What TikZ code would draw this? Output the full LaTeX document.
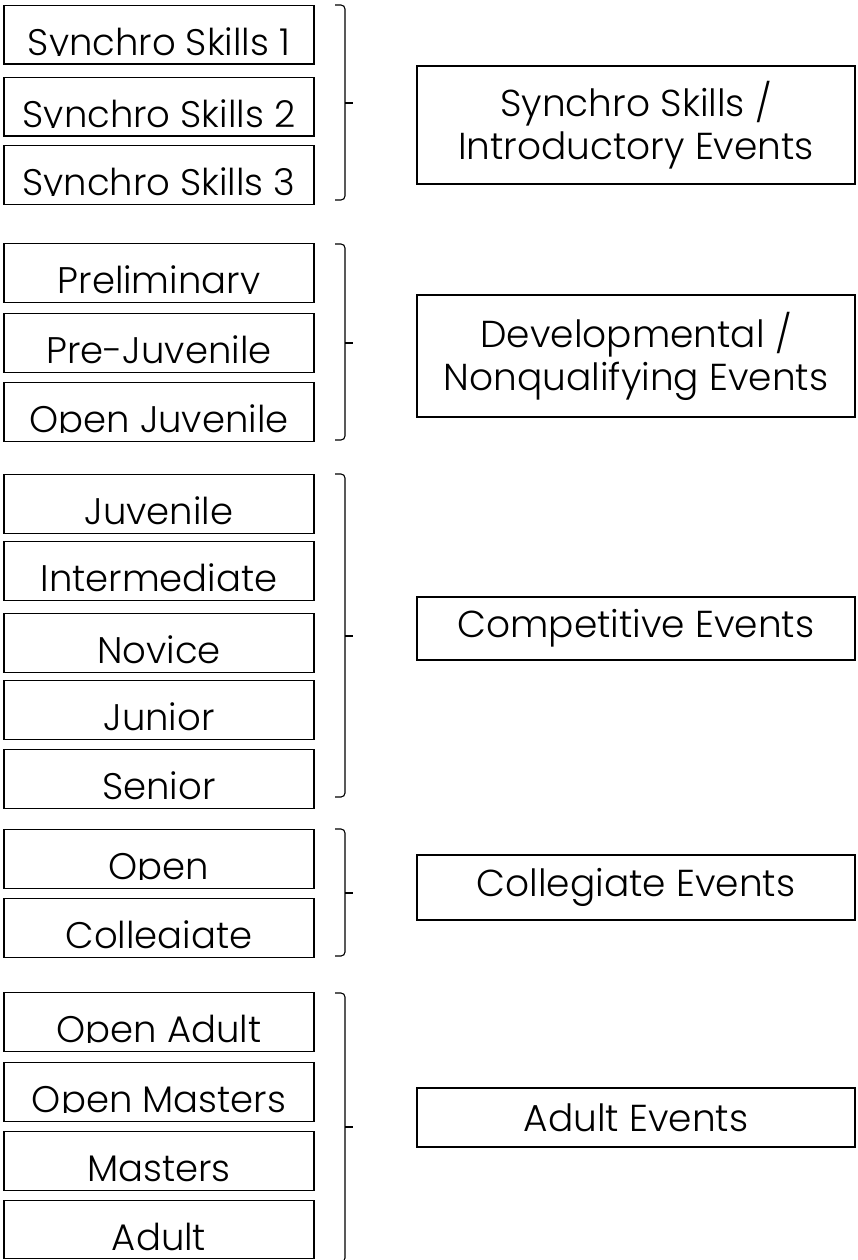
\documentclass[tikz,border=0pt]{standalone}
\usepackage{fontspec}
\IfFontExistsTF{Poppins Light}{\setmainfont{Poppins Light}}{\setmainfont{Poppins}}

\begin{document}
\begin{tikzpicture}[x=1pt,y=-1pt,line width=1.1pt]
\tikzset{
% Level boxes on the left (text cut at the baseline) and event boxes on the right
level text/.style={anchor=base,inner sep=0pt,font=\fontsize{37}{44}\selectfont},
level box/.style={draw,rectangle,minimum width=310pt,minimum height=58.5pt,inner sep=0pt,anchor=north,
  path picture={\clip ([yshift=8.5pt]path picture bounding box.south west) rectangle (path picture bounding box.north east);
  \node[level text] at ([yshift=8.5pt]path picture bounding box.south) {#1};}},
event box/.style={draw,rectangle,minimum width=438pt,inner sep=0pt,align=center,font=\fontsize{37.5}{43}\selectfont}
}
\tikzstyle{bracket}=[rounded corners=4pt]
\useasboundingbox (0,0) rectangle (857,1260);
% Synchro skills
\node[level box={Synchro Skills 1}] (l1) at (159,5) {};
\node[level box={Synchro Skills 2}] (l2) at (159,77) {};
\node[level box={Synchro Skills 3}] (l3) at (159,145) {};
% Developmental
\node[level box={Preliminary}] (l4) at (159,243) {};
\node[level box={Pre-Juvenile}] (l5) at (159,313) {};
\node[level box={Open Juvenile}] (l6) at (159,382) {};
% Competitive
\node[level box={Juvenile}] (l7) at (159,474) {};
\node[level box={Intermediate}] (l8) at (159,541) {};
\node[level box={Novice}] (l9) at (159,613) {};
\node[level box={Junior}] (l10) at (159,680) {};
\node[level box={Senior}] (l11) at (159,749) {};
% Collegiate
\node[level box={Open}] (l12) at (159,829) {};
\node[level box={Colleaiate}] (l13) at (159,898) {};
% Adult
\node[level box={Open Adult}] (l14) at (159,992) {};
\node[level box={Open Masters}] (l15) at (159,1062) {};
\node[level box={Masters}] (l16) at (159,1131) {};
\node[level box={Adult}] (l17) at (159,1199.5) {};

% The event boxes
\node[event box,minimum height=118pt] (e1) at (636,125) {Synchro Skills /\\Introductory Events};
\node[event box,minimum height=122pt] (e2) at (636,356) {Developmental /\\Nonqualifying Events};
\node[event box,minimum height=63pt] (e3) at (636,628.5) {Competitive Events};
\node[event box,minimum height=65pt] (e4) at (636,887.5) {Collegiate Events};
\node[event box,minimum height=59pt] (e5) at (636,1117.5) {Adult Events};

% The brackets
\coordinate (b1t) at (335,5); \coordinate (b1b) at (335,200); \coordinate (b1m) at (345,103);
\coordinate (b2t) at (335,244); \coordinate (b2b) at (335,440); \coordinate (b2m) at (345,343);
\coordinate (b3t) at (335,474); \coordinate (b3b) at (335,797); \coordinate (b3m) at (345,636);
\coordinate (b4t) at (335,829); \coordinate (b4b) at (335,956); \coordinate (b4m) at (345,893);
\coordinate (b5t) at (335,993); \coordinate (b5b) at (335,1262); \coordinate (b5m) at (345,1127);
\draw[bracket] (b1t) -- ++(10,0) |- (b1b); \draw (b1m) -- ++(8,0);
\draw[bracket] (b2t) -- ++(10,0) |- (b2b); \draw (b2m) -- ++(8,0);
\draw[bracket] (b3t) -- ++(10,0) |- (b3b); \draw (b3m) -- ++(8,0);
\draw[bracket] (b4t) -- ++(10,0) |- (b4b); \draw (b4m) -- ++(8,0);
\draw[bracket] (b5t) -- ++(10,0) |- (b5b); \draw (b5m) -- ++(8,0);
\end{tikzpicture}
\end{document}
